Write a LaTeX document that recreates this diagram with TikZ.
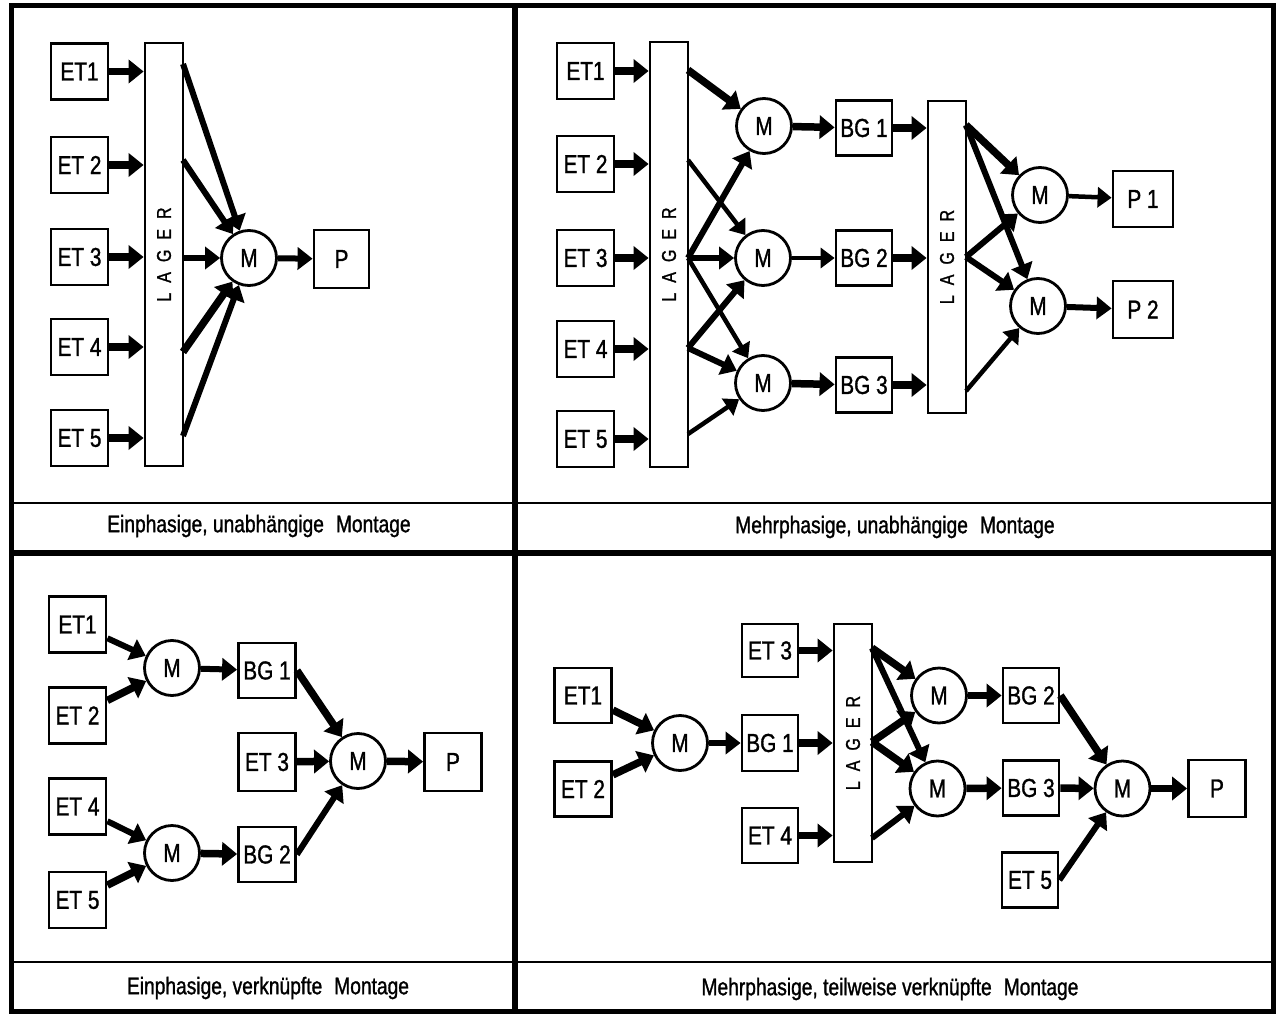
\documentclass[tikz,border=0pt]{standalone}
\usepackage{fontspec}
\newfontfamily\dinlike[FakeStretch=0.8,FakeBold=1.2]{Liberation Sans}
\newcommand{\lblfont}{\dinlike\fontsize{26}{28}\selectfont}
\newcommand{\cptfont}{\dinlike\fontsize{24}{26}\selectfont}
\newcommand{\lagfont}{\dinlike\fontsize{20}{22}\selectfont}
\usetikzlibrary{arrows.meta}

\begin{document}
\begin{tikzpicture}[x=1pt,y=-1pt,
  box/.style={draw, line width=2.8pt, minimum width=57pt, minimum height=56pt,
              inner sep=0pt, font=\lblfont},
  mach/.style={draw, circle, line width=2.8pt, minimum size=55pt, inner sep=0pt,
               font=\lblfont},
  store/.style={draw, line width=2.8pt, minimum width=38pt, inner sep=0pt},
  storetext/.style={rotate=90, font=\lagfont},
  fl/.style={line width=7.5pt, -{Triangle[length=15pt,width=23pt]}},
  fm/.style={line width=6pt, -{Triangle[length=15pt,width=22pt]}},
  ft/.style={line width=4.5pt, -{Triangle[length=14pt,width=20pt]}},
  frame/.style={line width=5pt},
  sep/.style={line width=2.5pt},
  caption/.style={font=\cptfont, inner sep=0pt}
]
\useasboundingbox (0,0) rectangle (1279,1016);

% ---------- frame ----------
\draw[frame] (11,6) rectangle (1273,1011);
\draw[line width=6pt] (515,6) -- (515,1011);
\draw[line width=6pt] (11,553) -- (1273,553);
\draw[sep] (11,503) -- (1273,503);
\draw[sep] (11,962) -- (1273,962);

\newcommand{\lagtext}{L\hspace{10pt}A\hspace{10pt}G\hspace{10pt}E\hspace{10pt}R}

% ---------- Einphasige, unabhaengige Montage ----------
\node[box] (a1) at (79.5,71.5) {ET1};
\node[box] (a2) at (79.5,165) {ET 2};
\node[box] (a3) at (79.5,257) {ET 3};
\node[box] (a4) at (79.5,347) {ET 4};
\node[box] (a5) at (79.5,438) {ET 5};
\node[store, minimum height=423pt] (aL) at (164,254.5) {};
\node[storetext] (aLt) at (aL) {\lagtext};
\node[mach] (aM) at (249,258) {M};
\node[box, minimum width=55pt, minimum height=58pt] (aP) at (341.5,259) {P};

\foreach \i in {1,...,5} \draw[fl] (a\i) -- (a\i -| aL.west);
\coordinate (ao1) at (183,64);
\coordinate (ao2) at (183,160);
\coordinate (ao3) at (183,258);
\coordinate (ao4) at (183,352);
\coordinate (ao5) at (183,436);
\draw[fm] (ao1) -- (aM);
\draw[fm] (ao2) -- (aM);
\draw[fm] (ao3) -- (aM);
\draw[fl] (ao4) -- (aM);
\draw[fm] (ao5) -- (aM);
\draw[fm] (aM) -- (aP);

\node[caption] (acap) at (259,526) {Einphasige, unabhängige\hspace{12pt}Montage};

% ---------- Mehrphasige, unabhaengige Montage ----------
\node[box] (b1) at (585.5,71) {ET1};
\node[box] (b2) at (585.5,164) {ET 2};
\node[box] (b3) at (585.5,258) {ET 3};
\node[box] (b4) at (585.5,349) {ET 4};
\node[box] (b5) at (585.5,439) {ET 5};
\node[store, minimum height=425pt] (bL) at (669,254.5) {};
\node[storetext] (bLt) at (bL) {\lagtext};
\node[mach] (bM1) at (764,126) {M};
\node[mach] (bM2) at (763,258) {M};
\node[mach] (bM3) at (763,383) {M};
\node[box, minimum width=56pt, minimum height=55pt] (bB1) at (864,128) {BG 1};
\node[box, minimum width=56pt, minimum height=55pt] (bB2) at (864,258) {BG 2};
\node[box, minimum width=56pt, minimum height=55pt] (bB3) at (864,385) {BG 3};
\node[store, minimum height=312pt] (bK) at (947,257) {};
\node[storetext] (bKt) at (bK) {\lagtext};
\node[mach] (bMa) at (1040,195) {M};
\node[mach] (bMb) at (1038,306) {M};
\node[box, minimum width=60pt, minimum height=56pt] (bP1) at (1143,199) {P 1};
\node[box, minimum width=60pt, minimum height=57pt] (bP2) at (1143,309.5) {P 2};

\foreach \i in {1,...,5} \draw[fl] (b\i) -- (b\i -| bL.west);
\coordinate (bo1) at (688,70);
\coordinate (bo2) at (688,160);
\coordinate (bo3) at (688,258);
\coordinate (bo4) at (688,348);
\coordinate (bo5) at (688,434);
\draw[fl] (bo1) -- (bM1);
\draw[ft] (bo2) -- (bM2);
\draw[fm] (bo3) -- (bM1);
\draw[fm] (bo3) -- (bM2);
\draw[ft] (bo3) -- (bM3);
\draw[fm] (bo4) -- (bM2);
\draw[fm] (bo4) -- (bM3);
\draw[ft] (bo5) -- (bM3);
\draw[fl] (bM1) -- (bB1);
\draw[ft] (bM2) -- (bB2);
\draw[fl] (bM3) -- (bB3);
\foreach \i in {1,2,3} \draw[fl] (bB\i) -- (bB\i -| bK.west);
\coordinate (bk1) at (966,125);
\coordinate (bk2) at (966,257);
\coordinate (bk3) at (966,391);
\draw[fl] (bk1) -- (bMa);
\draw[fm] (bk1) -- (bMb);
\draw[fm] (bk2) -- (bMa);
\draw[fm] (bk2) -- (bMb);
\draw[ft] (bk3) -- (bMb);
\draw[ft] (bMa) -- (bP1);
\draw[fm] (bMb) -- (bP2);

\node[caption] (bcap) at (895,527) {Mehrphasige, unabhängige\hspace{12pt}Montage};

% ---------- Einphasige, verknuepfte Montage ----------
\node[box] (c1) at (77.5,624.5) {ET1};
\node[box] (c2) at (77.5,715.5) {ET 2};
\node[box] (c4) at (77.5,806.5) {ET 4};
\node[box] (c5) at (77.5,900) {ET 5};
\node[mach] (cM1) at (172,668) {M};
\node[mach] (cM2) at (172,853) {M};
\node[box, minimum height=55pt] (cB1) at (267,670.5) {BG 1};
\node[box, minimum height=58pt] (c3) at (267,762) {ET 3};
\node[box, minimum height=55pt] (cB2) at (267,854.5) {BG 2};
\node[mach] (cM3) at (358,761) {M};
\node[box, minimum height=58pt] (cP) at (453,762) {P};

\draw[fm] (c1) -- (cM1);
\draw[fl] (c2) -- (cM1);
\draw[fm] (c4) -- (cM2);
\draw[fl] (c5) -- (cM2);
\draw[fm] (cM1) -- (cB1);
\draw[fl] (cM2) -- (cB2);
\draw[fl] (cB1.east) -- (cM3);
\draw[fl] (c3) -- (cM3);
\draw[fm] (cB2.east) -- (cM3);
\draw[fl] (cM3) -- (cP);

\node[caption] (ccap) at (268,988) {Einphasige, verknüpfte\hspace{12pt}Montage};

% ---------- Mehrphasige, teilweise verknuepfte Montage ----------
\node[box, minimum height=55pt] (d1) at (583,695.5) {ET1};
\node[box, minimum height=55pt] (d2) at (583,789) {ET 2};
\node[mach] (dM1) at (680,743) {M};
\node[box, minimum width=56pt] (dB1) at (770,743) {BG 1};
\node[box, minimum width=56pt, minimum height=53pt] (d3) at (770,650.5) {ET 3};
\node[box, minimum width=56pt, minimum height=55pt] (d4) at (770,835.5) {ET 4};
\node[store, minimum height=238pt] (dL) at (853,743) {};
\node[storetext] (dLt) at (dL) {\lagtext};
\node[mach] (dMa) at (939,695.5) {M};
\node[mach] (dMb) at (937.5,788.5) {M};
\node[box, minimum width=56pt, minimum height=55pt] (dB2) at (1031,695.5) {BG 2};
\node[box, minimum width=56pt, minimum height=55pt] (dB3) at (1031,788) {BG 3};
\node[mach] (dMc) at (1122.5,788.5) {M};
\node[box, minimum width=57pt, minimum height=57pt] (dP) at (1217,788.5) {P};
\node[box, minimum width=56pt, minimum height=55pt] (d5) at (1030,880) {ET 5};

\draw[fl] (d1) -- (dM1);
\draw[fl] (d2) -- (dM1);
\draw[fm] (dM1) -- (dB1);
\draw[fl] (d3) -- (d3 -| dL.west);
\draw[fl] (dB1) -- (dB1 -| dL.west);
\draw[fl] (d4) -- (d4 -| dL.west);
\coordinate (do1) at (872,648);
\coordinate (do2) at (872,742);
\coordinate (do3) at (872,838);
\draw[fl] (do1) -- (dMa);
\draw[fm] (do1) -- (dMb);
\draw[fl] (do2) -- (dMa);
\draw[fl] (do2) -- (dMb);
\draw[fm] (do3) -- (dMb);
\draw[fl] (dMa) -- (dB2);
\draw[fl] (dMb) -- (dB3);
\draw[fl] (dB2.east) -- (dMc);
\draw[fl] (dB3) -- (dMc);
\draw[fm] (d5.east) -- (dMc);
\draw[fl] (dMc) -- (dP);

\node[caption] (dcap) at (890,989) {Mehrphasige, teilweise verknüpfte\hspace{12pt}Montage};
\end{tikzpicture}
\end{document}
